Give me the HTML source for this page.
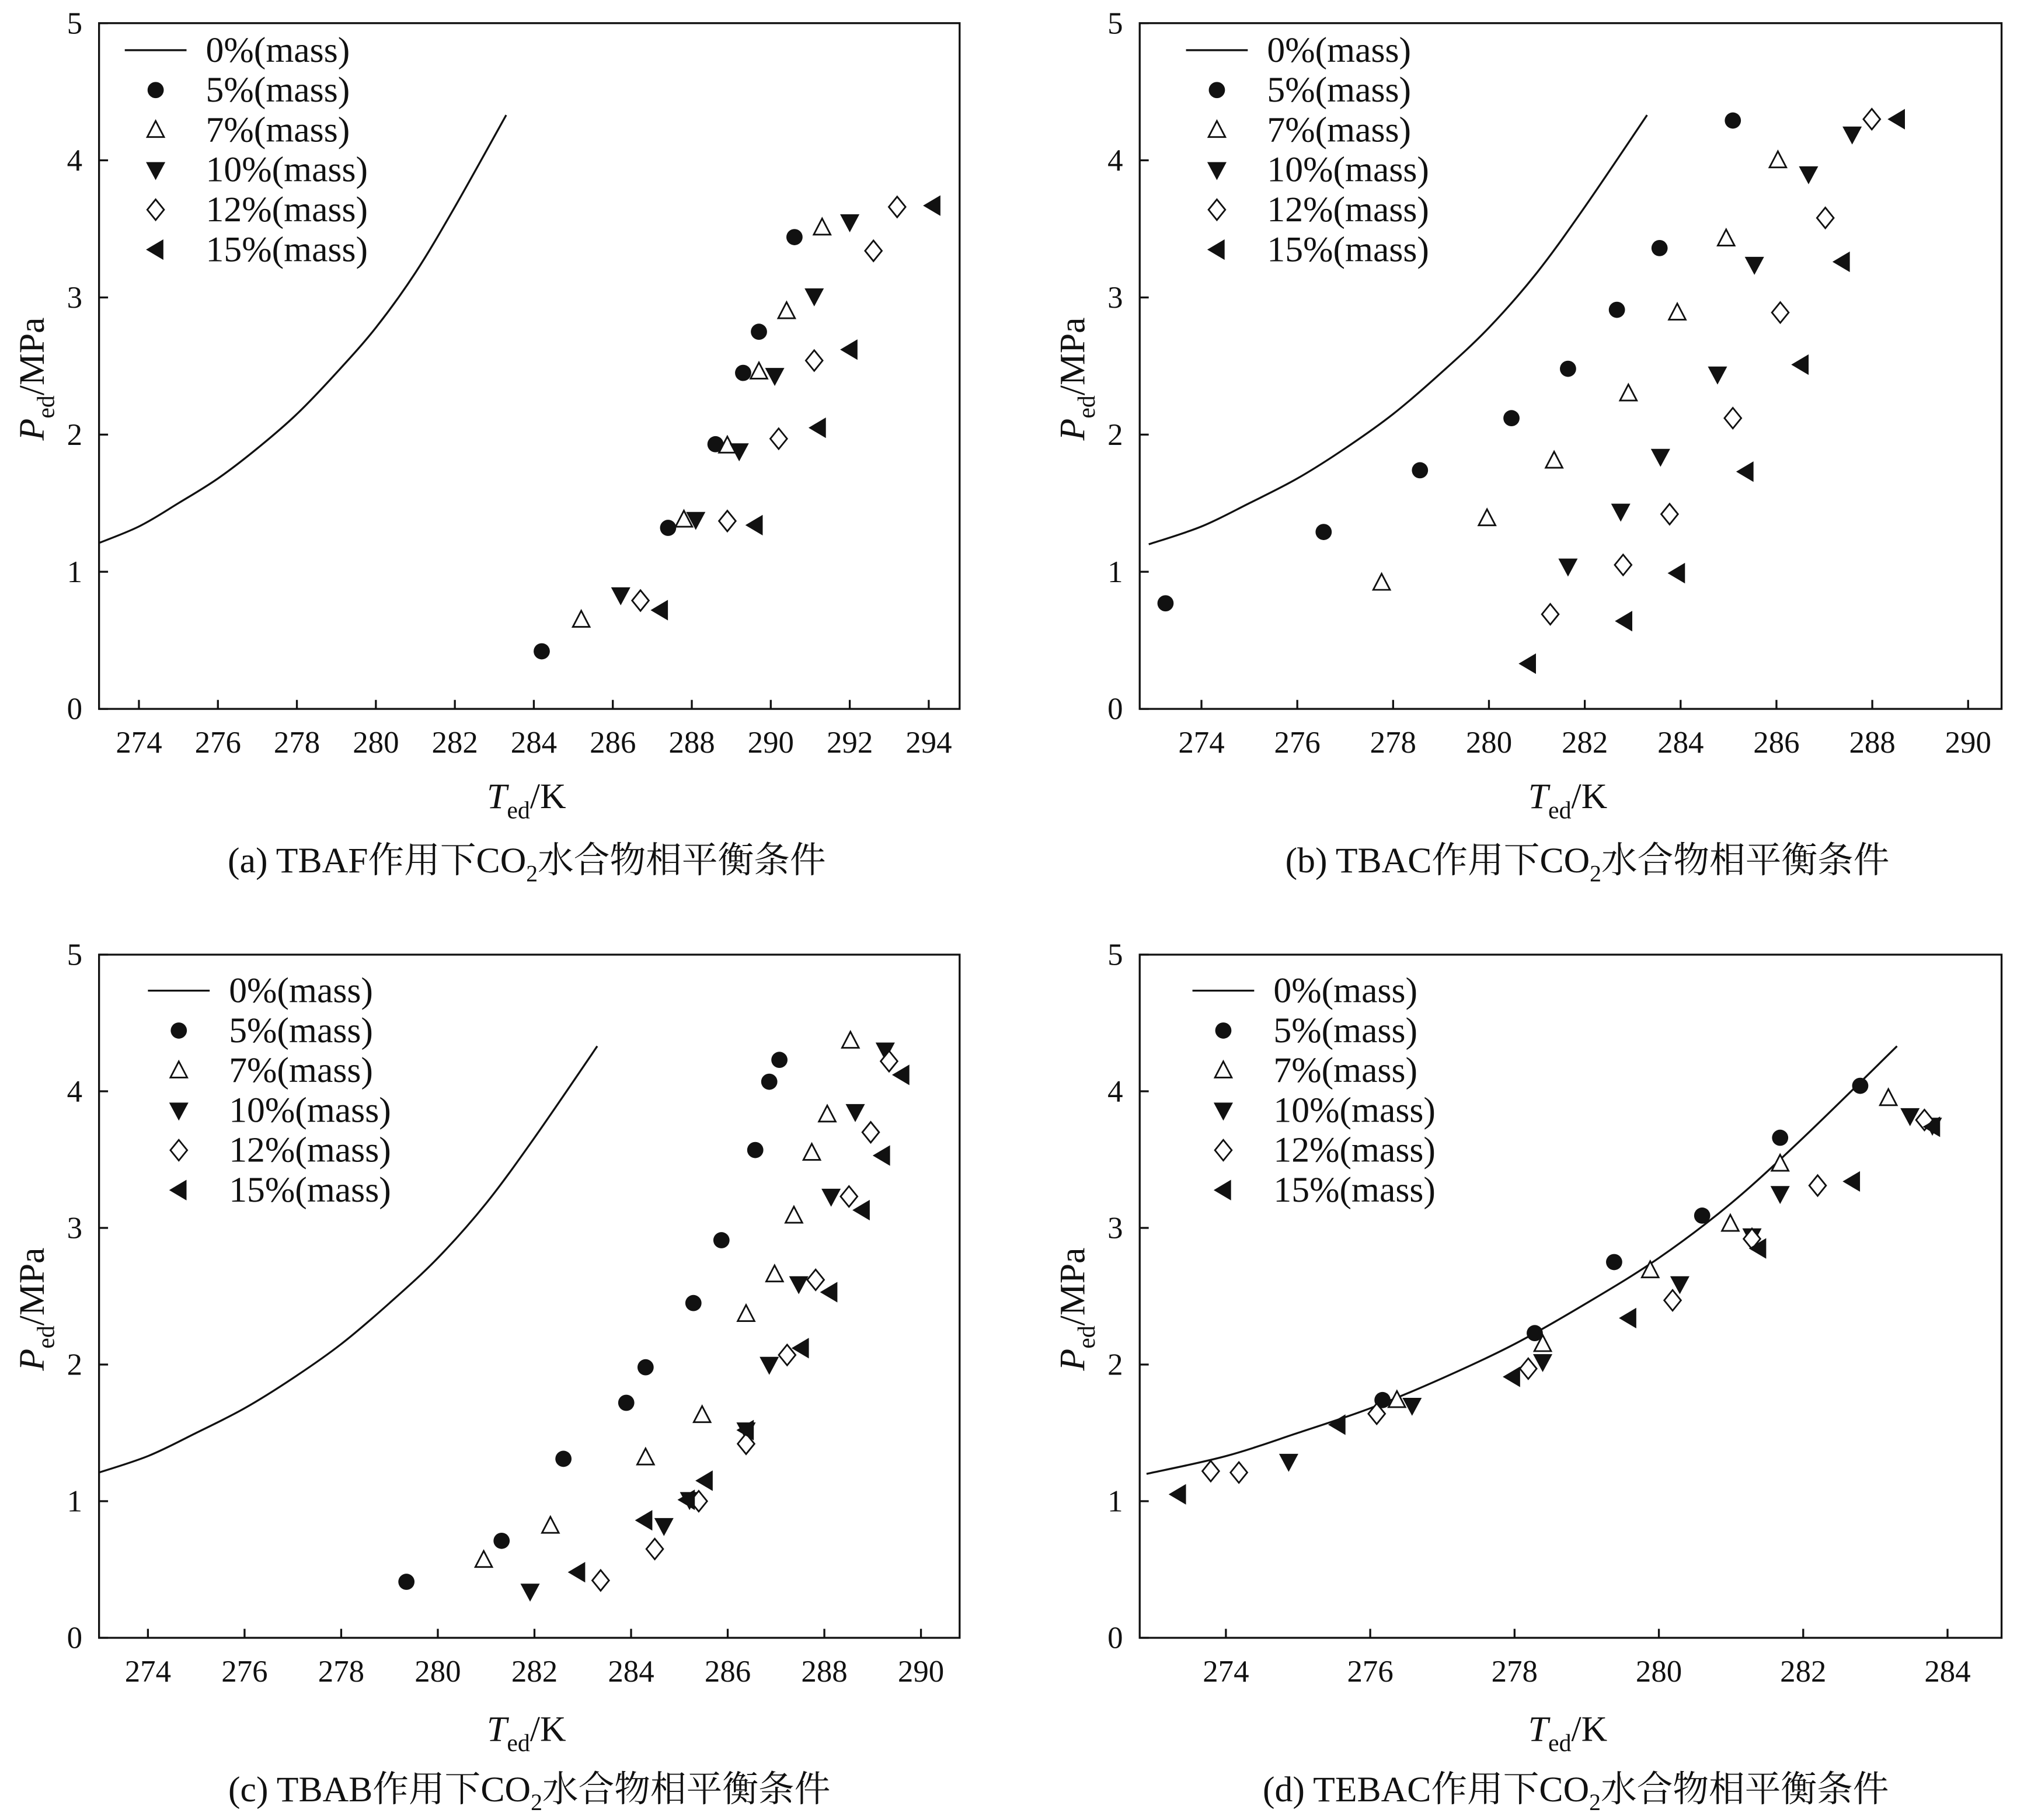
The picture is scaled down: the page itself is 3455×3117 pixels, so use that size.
<!DOCTYPE html>
<html><head><meta charset="utf-8"><style>
html,body{margin:0;padding:0;background:#fff}
svg{display:block}
text{font-family:"Liberation Serif","Noto Serif CJK SC",serif;fill:#111}
</style></head><body>
<svg id="chart" width="3455" height="3117" viewBox="0 0 1568 1414.6" xmlns="http://www.w3.org/2000/svg"></svg>
<script>
// Pure-water (0%) equilibrium curve
const curveT = [272.9, 274, 275, 276, 277, 278, 279, 280, 281, 282, 283.3];
const curveP = [1.2, 1.33, 1.5, 1.68, 1.9, 2.15, 2.45, 2.78, 3.18, 3.66, 4.33];
const seriesLabels = ["5%(mass)","7%(mass)","10%(mass)","12%(mass)","15%(mass)"];
// Panel (a) TBAF
const aT5=[284.2,287.4,288.6,289.3,289.7,290.6], aP5=[0.42,1.32,1.93,2.45,2.75,3.44];
const aT7=[285.2,287.8,288.9,289.7,290.4,291.3], aP7=[0.65,1.38,1.92,2.46,2.9,3.51];
const aT10=[286.2,288.1,289.2,290.1,291.1,292.0], aP10=[0.83,1.38,1.88,2.43,3.01,3.55];
const aT12=[286.7,288.9,290.2,291.1,292.6,293.2], aP12=[0.79,1.37,1.97,2.54,3.34,3.66];
const aT15=[287.2,289.6,291.2,292.0,294.1], aP15=[0.72,1.34,2.05,2.62,3.67];
// Panel (b) TBAC
const bT5=[273.25,276.55,278.56,280.47,281.65,282.67,283.56,285.09], bP5=[0.77,1.29,1.74,2.12,2.48,2.91,3.36,4.29];
const bT7=[277.76,279.96,281.36,282.91,283.93,284.95,286.03], bP7=[0.92,1.39,1.81,2.3,2.89,3.43,4.0];
const bT10=[281.65,282.75,283.58,284.77,285.54,286.67,287.58], bP10=[1.04,1.44,1.84,2.44,3.24,3.9,4.19];
const bT12=[281.28,282.8,283.77,285.09,286.08,287.02,287.99], bP12=[0.69,1.05,1.42,2.12,2.89,3.58,4.3];
const bT15=[280.82,282.83,283.93,285.36,286.51,287.37,288.52], bP15=[0.33,0.64,0.99,1.73,2.51,3.26,4.3];
// Panel (c) TBAB
const cT5=[279.35,281.32,282.6,283.9,284.3,285.29,285.87,286.57,286.86,287.07], cP5=[0.41,0.71,1.31,1.72,1.98,2.45,2.91,3.57,4.07,4.23];
const cT7=[280.95,282.33,284.3,285.47,286.38,286.97,287.37,287.74,288.06,288.54], cP7=[0.57,0.82,1.32,1.63,2.37,2.66,3.09,3.55,3.83,4.37];
const cT10=[281.91,284.68,285.21,286.38,286.86,287.47,288.14,288.64,289.26], cP10=[0.34,0.82,1.01,1.52,2.0,2.59,3.23,3.85,4.3];
const cT12=[283.37,284.49,285.4,286.38,287.23,287.82,288.51,288.96,289.34], cP12=[0.42,0.65,1.0,1.42,2.07,2.62,3.23,3.7,4.22];
const cT15=[282.89,284.28,285.16,285.53,286.38,287.52,288.11,288.78,289.2,289.6], cP15=[0.48,0.86,1.01,1.15,1.52,2.12,2.53,3.13,3.53,4.12];
// Panel (d) TEBAC
const dT5=[276.17,278.28,279.38,280.6,281.68,282.79], dP5=[1.74,2.23,2.75,3.09,3.66,4.04];
const dT7=[276.37,278.39,279.88,280.99,281.68,283.18], dP7=[1.74,2.15,2.69,3.03,3.47,3.95];
const dT10=[274.87,276.58,278.39,280.29,281.29,281.68,283.48,283.79], dP10=[1.29,1.7,2.02,2.59,2.94,3.25,3.82,3.75];
const dT12=[273.79,274.18,276.09,278.19,280.19,281.29,282.2,283.68], dP12=[1.22,1.21,1.64,1.97,2.47,2.92,3.31,3.79];
const dT15=[273.34,275.55,277.97,279.58,281.38,282.68,283.79], dP15=[1.05,1.56,1.91,2.34,2.85,3.34,3.74];
const xTicksA=[274,276,278,280,282,284,286,288,290,292,294];
const xTicksBC=[274,276,278,280,282,284,286,288,290];
const xTicksD=[274,276,278,280,282,284];
const yTicks=[0,1,2,3,4,5];

const NS="http://www.w3.org/2000/svg";
const svg=document.getElementById('chart');
function mk(tag,attrs,parent){const e=document.createElementNS(NS,tag);for(const k in attrs)e.setAttribute(k,attrs[k]);(parent||svg).appendChild(e);return e;}

const panels=[
 {id:'a',x0:77,x1:746,y0:18,y1:551,t0:274,px0:108,k:30.7,ticks:xTicksA,capDx:-2,
  data:[[aT5,aP5],[aT7,aP7],[aT10,aP10],[aT12,aP12],[aT15,aP15]],leg:{lx:97,ly:39},cap:"(a) TBAF作用下CO",lbl:628,capY:668},
 {id:'b',x0:886,x1:1556,y0:18,y1:551,t0:274,px0:934,k:37.25,ticks:xTicksBC,capDx:13,
  data:[[bT5,bP5],[bT7,bP7],[bT10,bP10],[bT12,bP12],[bT15,bP15]],leg:{lx:922,ly:39},cap:"(b) TBAC作用下CO",lbl:628,capY:668},
 {id:'c',x0:77,x1:746,y0:742,y1:1273,t0:274,px0:115,k:37.56,ticks:xTicksBC,capDx:0,
  data:[[cT5,cP5],[cT7,cP7],[cT10,cP10],[cT12,cP12],[cT15,cP15]],leg:{lx:115,ly:770},cap:"(c) TBAB作用下CO",lbl:1353,capY:1390},
 {id:'d',x0:886,x1:1556,y0:742,y1:1273,t0:274,px0:953,k:56.1,ticks:xTicksD,capDx:4,
  data:[[dT5,dP5],[dT7,dP7],[dT10,dP10],[dT12,dP12],[dT15,dP15]],leg:{lx:927,ly:770},cap:"(d) TEBAC作用下CO",lbl:1353,capY:1390}
];

function marker(kind,cx,cy,g){
  let e;
  if(kind===0) e=mk('circle',{cx:cx,cy:cy,r:6.3,fill:'#111'},g);
  else if(kind===1) e=mk('polygon',{points:`${cx},${cy-7} ${cx-6.5},${cy+5.5} ${cx+6.5},${cy+5.5}`,fill:'#fff',stroke:'#111','stroke-width':1.3},g);
  else if(kind===2) e=mk('polygon',{points:`${cx-7.5},${cy-6} ${cx+7.5},${cy-6} ${cx},${cy+8}`,fill:'#111'},g);
  else if(kind===3) e=mk('polygon',{points:`${cx},${cy-8} ${cx+6.5},${cy} ${cx},${cy+8} ${cx-6.5},${cy}`,fill:'#fff',stroke:'#111','stroke-width':1.3},g);
  else e=mk('polygon',{points:`${cx-7.5},${cy} ${cx+6},${cy-8} ${cx+6},${cy+8}`,fill:'#111'},g);
  return e;
}

panels.forEach(p=>{
  const g=mk('g',{});
  
  
  const X=t=>p.px0+(t-p.t0)*p.k;
  const Y=v=>p.y1-v/5*(p.y1-p.y0);
  const clipId='clip-'+p.id;
  const cpth=mk('clipPath',{id:clipId},g);
  mk('rect',{x:p.x0,y:p.y0,width:p.x1-p.x0,height:p.y1-p.y0},cpth);
  const frame=mk('rect',{x:p.x0,y:p.y0,width:p.x1-p.x0,height:p.y1-p.y0,fill:'none',stroke:'#111','stroke-width':1.5},g);
  
  
  p.ticks.forEach(t=>{
    mk('line',{x1:X(t),x2:X(t),y1:p.y1,y2:p.y1-7,stroke:'#111','stroke-width':1.5},g);
    const tx=mk('text',{x:X(t),y:p.y1+34,'text-anchor':'middle','font-size':24},g);
    tx.textContent=t;
    
    
  });
  yTicks.forEach(v=>{
    mk('line',{x1:p.x0,x2:p.x0+7,y1:Y(v),y2:Y(v),stroke:'#111','stroke-width':1.5},g);
    const ty=mk('text',{x:p.x0-13,y:Y(v)+8,'text-anchor':'end','font-size':24},g);
    ty.textContent=v;
    
    
  });
  const xt=mk('text',{x:(p.x0+p.x1)/2-33,y:p.lbl,'font-size':28},g);
  xt.innerHTML='<tspan font-style="italic">T</tspan><tspan font-size="19" dy="8">ed</tspan><tspan dy="-8">/K</tspan>';
  
  
  const yc=(p.y0+p.y1)/2+10;
  const yt=mk('text',{x:0,y:0,'font-size':28,transform:`translate(${p.x0-43},${yc}) rotate(-90)`,'text-anchor':'middle'},g);
  yt.innerHTML='<tspan font-style="italic">P</tspan><tspan font-size="19" dy="8">ed</tspan><tspan dy="-8">/MPa</tspan>';
  
  
  const cp=mk('text',{x:(p.x0+p.x1)/2+p.capDx,y:p.capY+10,'text-anchor':'middle','font-size':28},g);
  cp.innerHTML=p.cap+'<tspan font-size="18" dy="7">2</tspan><tspan dy="-7">水合物相平衡条件</tspan>';
  
  
  const P=curveT.map((t,i)=>[X(t),Y(curveP[i])]);
  let d='M'+P[0][0]+','+P[0][1];
  for(let i=0;i<P.length-1;i++){
    const p0=P[Math.max(0,i-1)],p1=P[i],p2=P[i+1],p3=P[Math.min(P.length-1,i+2)];
    const c1=[p1[0]+(p2[0]-p0[0])/6,p1[1]+(p2[1]-p0[1])/6];
    const c2=[p2[0]-(p3[0]-p1[0])/6,p2[1]-(p3[1]-p1[1])/6];
    d+=` C${c1[0]},${c1[1]} ${c2[0]},${c2[1]} ${p2[0]},${p2[1]}`;
  }
  const cv=mk('path',{d:d,fill:'none',stroke:'#111','stroke-width':1.5,'clip-path':`url(#${clipId})`},g);
  
  
  p.data.forEach((dd,k)=>{
    const sg=mk('g',{},g);
    
    
    dd[0].forEach((t,i)=>{
      const m=marker(k,X(t),Y(dd[1][i]),sg);
      
      
    });
  });
  const lg=mk('g',{},g);
  
  
  const lx=p.leg.lx, ly=p.leg.ly;
  mk('line',{x1:lx,x2:lx+48,y1:ly,y2:ly,stroke:'#111','stroke-width':1.5},lg);
  const t0=mk('text',{x:lx+63,y:ly+9,'font-size':28},lg);
  t0.textContent='0%(mass)';
  
  
  seriesLabels.forEach((s,k)=>{
    const yy=ly+31*(k+1);
    marker(k,lx+24,yy,lg);
    const tt=mk('text',{x:lx+63,y:yy+9,'font-size':28},lg);
    tt.textContent=s;
    
    
  });
});
</script>
</body></html>
